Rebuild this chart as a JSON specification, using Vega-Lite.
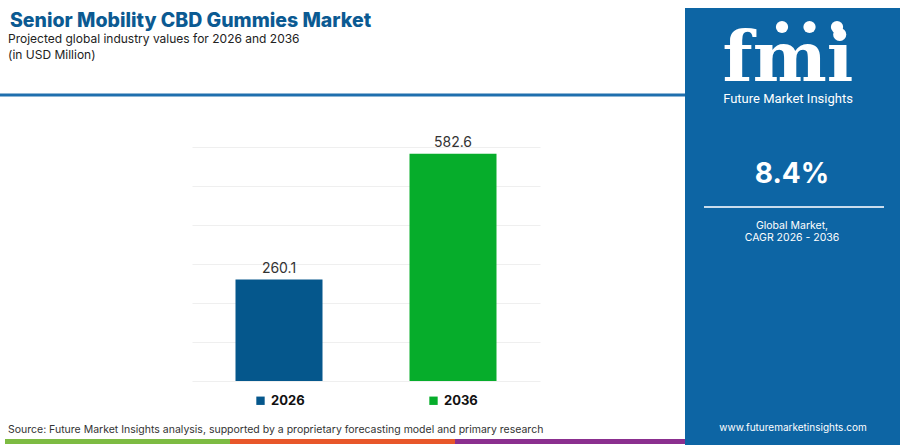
{
  "$schema": "https://vega.github.io/schema/vega-lite/v6.json",
  "width": 348,
  "height": 234,
  "autosize": "none",
  "padding": {"left": 192, "top": 147, "right": 360, "bottom": 64},
  "background": "white",
  "config": {"view": {"stroke": null}, "font": "Inter"},
  "data": {
    "values": [
      {"year": "2026", "value": 260.1},
      {"year": "2036", "value": 582.6}
    ]
  },
  "layer": [
    {
      "data": {"values": [{}]},
      "mark": {"type": "rect", "fill": "#0d65a4"},
      "encoding": {
        "x": {"value": 493}, "x2": {"value": 708},
        "y": {"value": -139}, "y2": {"value": 298}
      }
    },
    {
      "data": {"values": [{}]},
      "mark": {"type": "rule", "stroke": "#1f6fae", "strokeWidth": 3},
      "encoding": {
        "x": {"value": -192}, "x2": {"value": 493},
        "y": {"value": -52}
      }
    },
    {
      "data": {"values": [{}]},
      "mark": {"type": "rect", "fill": "#7dbb42"},
      "encoding": {"x": {"value": -187}, "x2": {"value": 38}, "y": {"value": 292}, "y2": {"value": 297}}
    },
    {
      "data": {"values": [{}]},
      "mark": {"type": "rect", "fill": "#e8572a"},
      "encoding": {"x": {"value": 38}, "x2": {"value": 263}, "y": {"value": 292}, "y2": {"value": 297}}
    },
    {
      "data": {"values": [{}]},
      "mark": {"type": "rect", "fill": "#8b2f8f"},
      "encoding": {"x": {"value": 263}, "x2": {"value": 493}, "y": {"value": 292}, "y2": {"value": 297}}
    },
    {
      "data": {"values": [{}]},
      "mark": {"type": "text", "text": "Senior Mobility CBD Gummies Market", "align": "left", "baseline": "alphabetic", "fontSize": 19.5, "fontWeight": 800, "color": "#0b5a92"},
      "encoding": {"x": {"value": -182}, "y": {"value": -120}}
    },
    {
      "data": {"values": [{}]},
      "mark": {"type": "text", "text": "Projected global industry values for 2026 and 2036", "align": "left", "baseline": "alphabetic", "fontSize": 12, "color": "#222222"},
      "encoding": {"x": {"value": -184}, "y": {"value": -104}}
    },
    {
      "data": {"values": [{}]},
      "mark": {"type": "text", "text": "(in USD Million)", "align": "left", "baseline": "alphabetic", "fontSize": 12, "color": "#222222"},
      "encoding": {"x": {"value": -184}, "y": {"value": -88}}
    },
    {
      "data": {"values": [{}]},
      "mark": {"type": "text", "text": "Source: Future Market Insights analysis, supported by a proprietary forecasting model and primary research", "align": "left", "baseline": "alphabetic", "fontSize": 10.5, "color": "#333333"},
      "encoding": {"x": {"value": -184}, "y": {"value": 286}}
    },
    {
      "data": {"values": [{}]},
      "mark": {"type": "text", "text": "fmi", "align": "center", "baseline": "alphabetic", "font": "DejaVu Serif", "fontSize": 70, "fontWeight": "bold", "color": "white"},
      "encoding": {"x": {"value": 596}, "y": {"value": -66}}
    },
    {
      "data": {"values": [{"g": 1}, {"g": 2}, {"g": 3}]},
      "mark": {"type": "point", "filled": true, "color": "white", "opacity": 1, "size": 150},
      "encoding": {
        "x": {"field": "g", "type": "quantitative", "scale": {"domain": [1, 3], "range": [590, 645]}, "axis": null},
        "y": {"value": -120}
      }
    },
    {
      "data": {"values": [{}]},
      "mark": {"type": "text", "text": "Future Market Insights", "align": "center", "baseline": "middle", "font": "Roboto", "fontSize": 13, "color": "white"},
      "encoding": {"x": {"value": 596}, "y": {"value": -48}}
    },
    {
      "data": {"values": [{}]},
      "mark": {"type": "text", "text": "8.4%", "align": "center", "baseline": "middle", "fontSize": 28, "fontWeight": "bold", "color": "white"},
      "encoding": {"x": {"value": 600}, "y": {"value": 28}}
    },
    {
      "data": {"values": [{}]},
      "mark": {"type": "rule", "stroke": "#c9dced", "strokeWidth": 2},
      "encoding": {"x": {"value": 512}, "x2": {"value": 692}, "y": {"value": 60}}
    },
    {
      "data": {"values": [{}]},
      "mark": {"type": "text", "text": "Global Market,", "align": "center", "baseline": "middle", "fontSize": 10.5, "color": "white"},
      "encoding": {"x": {"value": 600}, "y": {"value": 79}}
    },
    {
      "data": {"values": [{}]},
      "mark": {"type": "text", "text": "CAGR 2026 - 2036", "align": "center", "baseline": "middle", "fontSize": 10.5, "color": "white"},
      "encoding": {"x": {"value": 600}, "y": {"value": 91}}
    },
    {
      "data": {"values": [{}]},
      "mark": {"type": "text", "text": "www.futuremarketinsights.com", "align": "center", "baseline": "middle", "fontSize": 10, "color": "white"},
      "encoding": {"x": {"value": 601}, "y": {"value": 281}}
    },
    {
      "mark": {"type": "bar"},
      "encoding": {
        "x": {"field": "year", "type": "nominal", "axis": null, "scale": {"paddingInner": 0.5, "paddingOuter": 0.25}},
        "y": {
          "field": "value", "type": "quantitative",
          "scale": {"domain": [0, 600]},
          "axis": {"values": [0, 100, 200, 300, 400, 500, 600], "labels": false, "ticks": false, "domain": false, "title": null, "grid": true, "gridColor": "#efefef", "gridWidth": 1}
        },
        "color": {
          "field": "year", "type": "nominal",
          "scale": {"domain": ["2026", "2036"], "range": ["#05578c", "#06ad2b"]},
          "legend": {
            "orient": "none", "legendX": 62, "legendY": 247, "direction": "horizontal",
            "title": null, "symbolType": "square", "symbolSize": 70, "symbolOpacity": 1,
            "labelFontSize": 13, "labelFontWeight": "bold", "labelColor": "#111111",
            "labelOffset": 4, "columnPadding": 122
          }
        }
      }
    },
    {
      "mark": {"type": "text", "baseline": "alphabetic", "dy": -7, "fontSize": 14, "color": "#333333"},
      "encoding": {
        "x": {"field": "year", "type": "nominal", "axis": null},
        "y": {
          "field": "value", "type": "quantitative",
          "axis": {"values": [0, 100, 200, 300, 400, 500, 600], "labels": false, "ticks": false, "domain": false, "title": null, "grid": true, "gridColor": "#efefef", "gridWidth": 1}
        },
        "text": {"field": "value", "type": "quantitative", "format": ".1f"}
      }
    }
  ]
}
